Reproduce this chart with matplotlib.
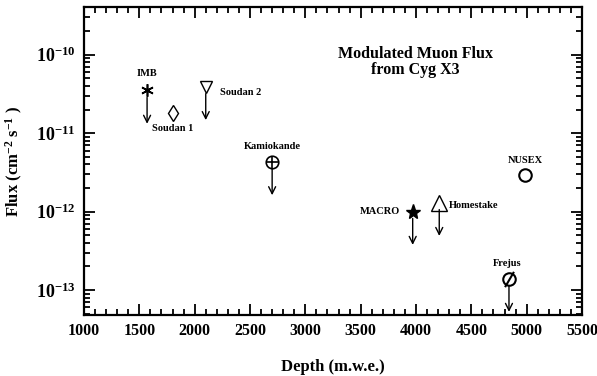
import matplotlib
matplotlib.use('Agg')
import matplotlib.pyplot as plt
import numpy as np
from matplotlib.ticker import MultipleLocator, LogLocator, FuncFormatter, NullFormatter
from matplotlib.transforms import offset_copy

plt.rcParams['font.family'] = 'Liberation Serif'
plt.rcParams['font.weight'] = 'bold'
plt.rcParams['mathtext.fontset'] = 'custom'
plt.rcParams['mathtext.rm'] = 'Liberation Serif:bold'
plt.rcParams['mathtext.bf'] = 'Liberation Serif:bold'
plt.rcParams['mathtext.it'] = 'Liberation Serif:bold'

# experiments, depth (m.w.e.) and flux upper limits / values (cm-2 s-1)
experiments = ['IMB', 'Soudan 1', 'Soudan 2', 'Kamiokande', 'NUSEX', 'MACRO', 'Homestake', 'Frejus']
depth = [1570, 1800, 2100, 2700, 4985, 3970, 4210, 4840]
flux = [3.5e-11, 1.8e-11, 3.9e-11, 4.3e-12, 2.9e-12, 1.0e-12, 1.3e-12, 1.4e-13]
upper_limit = [True, False, True, True, False, True, True, True]

xticks = [1000, 1500, 2000, 2500, 3000, 3500, 4000, 4500, 5000, 5500]
yticks = [1e-13, 1e-12, 1e-11, 1e-10]


def main():
    fig = plt.figure(figsize=(5.97, 3.76), dpi=100)
    ax = fig.add_axes([0.1407, 0.1622, 0.8342, 0.818])

    ax.set_yscale('log')
    ax.set_xlim(1000, 5500)
    ax.set_ylim(4.8e-14, 4e-10)

    d = dict(zip(experiments, depth))
    f = dict(zip(experiments, flux))

    # markers
    ax.plot(d['IMB'], f['IMB'], marker=(6, 2, 0), ms=9, mew=1.2, color='k', ls='none')
    ax.plot(d['Soudan 1'], f['Soudan 1'], marker='d', ms=8, mfc='none', mec='k', mew=1.0, ls='none')
    ax.plot(d['Soudan 2'], f['Soudan 2'], marker='v', ms=9, mfc='none', mec='k', mew=1.0, ls='none')
    ax.plot(d['Kamiokande'], f['Kamiokande'], marker='o', ms=9, mfc='none', mec='k', mew=1.2, ls='none')
    ax.plot(d['Kamiokande'], f['Kamiokande'], marker='+', ms=9, mec='k', mew=1.2, ls='none')
    ax.plot(d['NUSEX'], f['NUSEX'], marker='o', ms=9, mfc='none', mec='k', mew=1.5, ls='none')
    ax.plot(d['MACRO'], f['MACRO'], marker='*', ms=11, color='k', ls='none')
    ax.plot(d['Homestake'], f['Homestake'], marker='^', ms=11, mfc='none', mec='k', mew=1.0, ls='none')
    ax.plot(d['Frejus'], f['Frejus'], marker='o', ms=9, mfc='none', mec='k', mew=1.5, ls='none')
    ax.plot(d['Frejus'], f['Frejus'], marker=[(-0.7, -1.2), (0.7, 1.2)], ms=11, mec='k', mew=1.5, ls='none')

    # downward arrows for upper limits
    tail = offset_copy(ax.transData, fig=fig, x=0, y=-5, units='points')
    tip = offset_copy(ax.transData, fig=fig, x=0, y=-24, units='points')
    for name, x, y, ul in zip(experiments, depth, flux, upper_limit):
        if not ul:
            continue
        ax.annotate('', xy=(x, y), xycoords=tip, xytext=(x, y), textcoords=tail,
                    arrowprops=dict(arrowstyle='->,head_length=0.5,head_width=0.25',
                                    color='k', lw=1.0, shrinkA=0, shrinkB=0))

    # labels
    lab = dict(fontsize=7.5, fontweight='bold', ha='center', va='center')
    ax.annotate('IMB', (d['IMB'], f['IMB']), xytext=(0, 12), textcoords='offset points', **lab)
    ax.annotate('Soudan 1', (d['Soudan 1'], f['Soudan 1']), xytext=(0, -11), textcoords='offset points', **lab)
    ax.annotate('Soudan 2', (d['Soudan 2'], f['Soudan 2']), xytext=(10, -4), textcoords='offset points',
                fontsize=7.5, fontweight='bold', ha='left', va='center')
    ax.annotate('Kamiokande', (d['Kamiokande'], f['Kamiokande']), xytext=(0, 11), textcoords='offset points', **lab)
    ax.annotate('NUSEX', (d['NUSEX'], f['NUSEX']), xytext=(0, 11), textcoords='offset points', **lab)
    ax.annotate('MACRO', (d['MACRO'], f['MACRO']), xytext=(-9, 0), textcoords='offset points',
                fontsize=7.5, fontweight='bold', ha='right', va='center')
    ax.annotate('Homestake', (d['Homestake'], f['Homestake']), xytext=(7, -2), textcoords='offset points',
                fontsize=7.5, fontweight='bold', ha='left', va='center')
    ax.annotate('Frejus', (d['Frejus'], f['Frejus']), xytext=(-1, 11), textcoords='offset points', **lab)

    ax.text(0.665, 0.822, 'Modulated Muon Flux\nfrom Cyg X3', transform=ax.transAxes,
            ha='center', va='center', fontsize=11.5, fontweight='bold', linespacing=1.05)

    # ticks
    ax.set_xticks(xticks)
    ax.xaxis.set_minor_locator(MultipleLocator(100))
    ax.set_yticks(yticks)
    ax.yaxis.set_minor_locator(LogLocator(base=10, subs=np.arange(2, 10), numticks=20))
    ax.yaxis.set_minor_formatter(NullFormatter())
    ax.yaxis.set_major_formatter(FuncFormatter(
        lambda v, p: r'$\mathbf{10^{%d}}$' % int(round(np.log10(v)))))
    ax.tick_params(which='both', direction='in', top=True, right=True, width=1.3)
    ax.tick_params(which='major', length=8, labelsize=11.5, pad=6)
    ax.tick_params(axis='y', which='major', labelsize=13)
    ax.tick_params(which='minor', length=4)
    for lbl in ax.get_xticklabels():
        lbl.set_fontweight('bold')
    for s in ax.spines.values():
        s.set_linewidth(1.6)

    ax.set_xlabel('Depth (m.w.e.)', fontsize=12, fontweight='bold', labelpad=14)
    ax.set_ylabel(r'Flux (cm$^{-2}$ s$^{-1}$ )', fontsize=12, fontweight='bold', labelpad=8)

    fig.savefig('out.png', dpi=100)


if __name__ == '__main__':
    main()
